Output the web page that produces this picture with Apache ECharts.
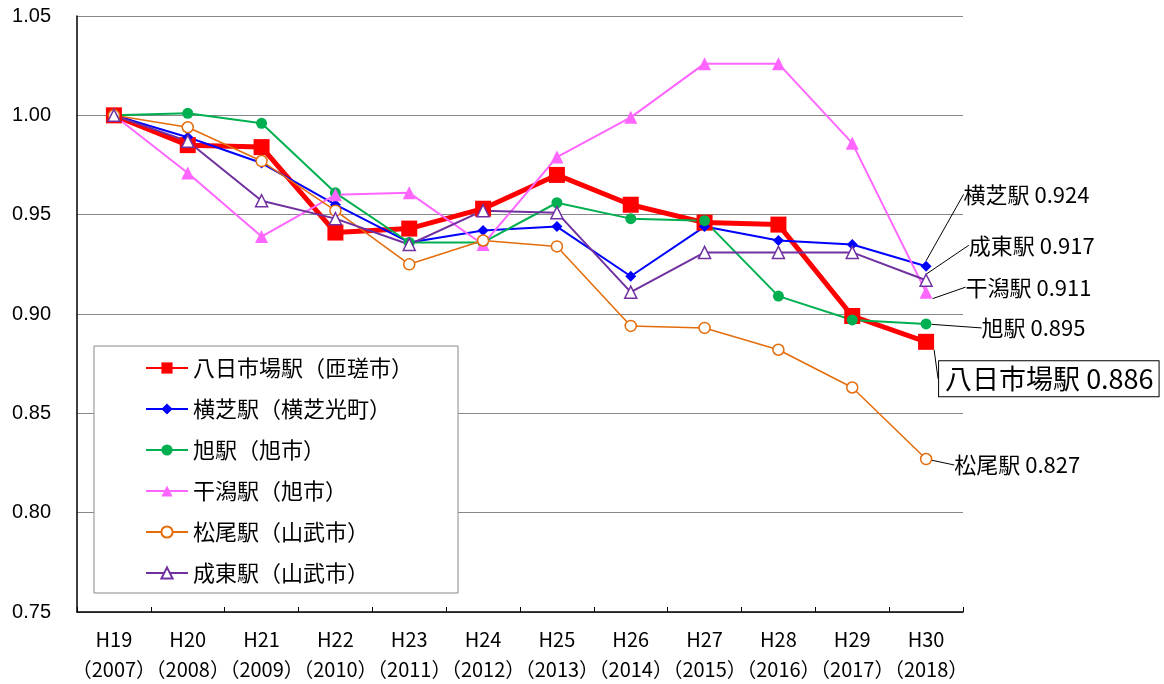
<!DOCTYPE html>
<html>
<head>
<meta charset="utf-8">
<script src="https://cdn.jsdelivr.net/npm/echarts@6/dist/echarts.min.js"></script>
<style>
html,body{margin:0;padding:0;background:#fff;}
#container{width:1164px;height:684px;}
</style>
</head>
<body>
<div id="container"></div>
<script>
// 年度
var years = ["H19\n（2007）","H20\n（2008）","H21\n（2009）","H22\n（2010）","H23\n（2011）","H24\n（2012）",
             "H25\n（2013）","H26\n（2014）","H27\n（2015）","H28\n（2016）","H29\n（2017）","H30\n（2018）"];
// 駅名（凡例）
var stationNames = ["八日市場駅（匝瑳市）","横芝駅（横芝光町）","旭駅（旭市）","干潟駅（旭市）","松尾駅（山武市）","成東駅（山武市）"];
// 駅名（右端ラベル）
var endNames = ["八日市場駅","横芝駅","旭駅","干潟駅","松尾駅","成東駅"];
// 指数 (H19=1.000)
var yokaichiba = [1.000,0.985,0.984,0.941,0.943,0.953,0.970,0.955,0.946,0.945,0.899,0.886];
var yokoshiba  = [1.000,0.989,0.976,0.955,0.936,0.942,0.944,0.919,0.944,0.937,0.935,0.924];
var asahi      = [1.000,1.001,0.996,0.961,0.936,0.936,0.956,0.948,0.947,0.909,0.897,0.895];
var higata     = [1.000,0.971,0.939,0.960,0.961,0.935,0.979,0.999,1.026,1.026,0.986,0.911];
var matsuo     = [1.000,0.994,0.977,0.952,0.925,0.937,0.934,0.894,0.893,0.882,0.863,0.827];
var naruto     = [1.000,0.987,0.957,0.948,0.935,0.952,0.951,0.911,0.931,0.931,0.931,0.917];
// y軸
var yMin = 0.75, yMax = 1.05, yStep = 0.05;

var fontJP = '"Noto Sans CJK JP"';

function lastLabel(values, big) {
    var data = [];
    for (var i = 0; i < values.length; i++) {
        data.push(values[i]);
    }
    var last = values.length - 1;
    var lbl = {
        show: true,
        position: 'right',
        distance: 5,
        color: '#000',
        fontFamily: fontJP,
        fontSize: 22
    };
    if (big) {
        lbl.fontSize = 27;
        lbl.borderColor = '#000';
        lbl.borderWidth = 1;
        lbl.padding = [5, 5, 3, 6];
        lbl.backgroundColor = '#fff';
    }
    data[last] = { value: values[last], label: lbl };
    return data;
}

function makeSeries(idx, values, color, symbol, size, width, hollow, dx, dy, big) {
    return {
        name: stationNames[idx],
        type: 'line',
        data: lastLabel(values, big),
        symbol: symbol,
        symbolSize: size,
        showAllSymbol: true,
        lineStyle: { color: color, width: width },
        itemStyle: { color: hollow ? '#fff' : color, borderColor: color, borderWidth: hollow ? 1.5 : 0, opacity: 1 },
        label: {
            show: false,
            formatter: function (p) {
                return endNames[idx] + ' ' + Number(p.value).toFixed(3);
            }
        },
        labelLine: { show: true, lineStyle: { color: '#000', width: 1 } },
        labelLayout: { dx: dx, dy: dy },
        emphasis: { disabled: true },
        animation: false
    };
}

var dom = document.getElementById("container");
var myChart = echarts.init(dom);
var option = {
    backgroundColor: '#fff',
    animation: false,
    grid: { left: 77, right: 201, top: 16, bottom: 70, containLabel: false },
    legend: {
        orient: 'vertical',
        left: 94,
        top: 346,
        padding: [11, 45, 9, 51],
        itemGap: 19,
        itemWidth: 42,
        itemHeight: 14,
        borderColor: '#888',
        borderWidth: 1,
        backgroundColor: '#fff',
        textStyle: { fontFamily: fontJP, fontSize: 22, color: '#000' },
        data: stationNames
    },
    xAxis: {
        type: 'category',
        data: years,
        boundaryGap: true,
        axisLine: { lineStyle: { color: '#000', width: 1.5 } },
        axisTick: { show: true, inside: true, length: 5, lineStyle: { color: '#000' } },
        axisLabel: {
            interval: 0,
            margin: 12,
            color: '#000',
            fontFamily: fontJP,
            fontSize: 20,
            lineHeight: 30
        }
    },
    yAxis: {
        type: 'value',
        min: yMin,
        max: yMax,
        interval: yStep,
        axisLine: { show: true, lineStyle: { color: '#000', width: 1.5 } },
        axisTick: { show: false },
        splitLine: { lineStyle: { color: '#888', width: 1 } },
        axisLabel: {
            margin: 26,
            color: '#000',
            fontFamily: '"Liberation Sans"',
            fontSize: 20,
            formatter: function (v) { return v.toFixed(2); }
        }
    },
    series: [
        makeSeries(0, yokaichiba, '#ff0000', 'rect', 16, 5, false, 0, 37, true),
        makeSeries(1, yokoshiba, '#0000ff', 'diamond', 11, 2, false, 27, -72),
        makeSeries(2, asahi, '#00b050', 'circle', 11, 2, false, 45, 4),
        makeSeries(3, higata, '#ff66ff', 'triangle', 13, 2, false, 28, -5),
        makeSeries(4, matsuo, '#e46c0a', 'circle', 11, 1.5, true, 17, 6),
        makeSeries(5, naruto, '#7030a0', 'triangle', 12, 2, true, 31, -35)
    ]
};
myChart.setOption(option, true);
</script>
</body>
</html>
